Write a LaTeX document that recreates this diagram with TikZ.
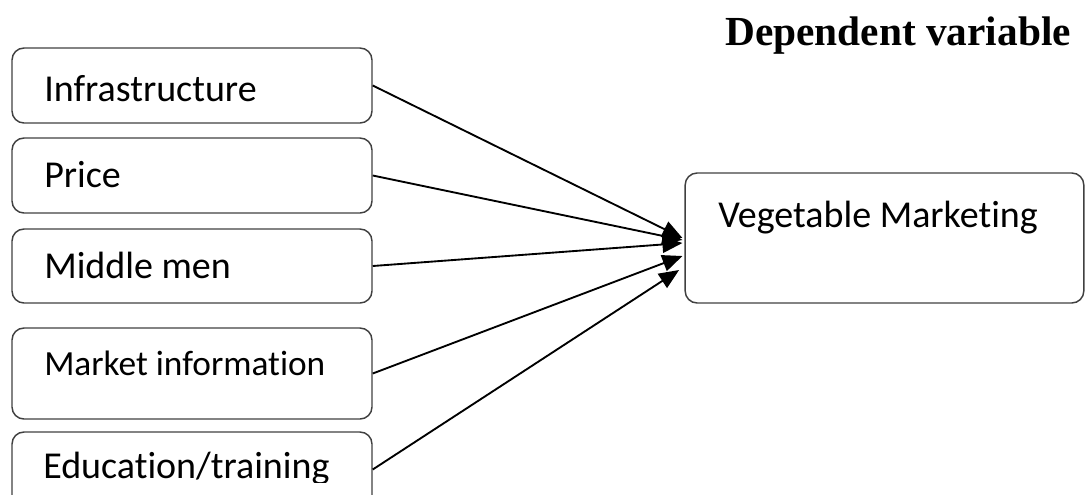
\documentclass[tikz,border=0pt]{standalone}
\usepackage{fontspec}
\usepackage{tikz}
\usetikzlibrary{arrows.meta, shapes}
\newfontfamily\calibfont[Ligatures=NoCommon]{Carlito}
\newfontfamily\timesfont{Liberation Serif}

\begin{document}
\begin{tikzpicture}[x=0.75pt, y=-0.75pt]

    % Frame of the picture
    \useasboundingbox (0,0) rectangle (1086,494);
    \clip (0,0) rectangle (1086,494);

    % Boxes
    \tikzset{bx/.style={draw=black!75, line width=1.1pt, rounded corners=9pt, minimum width=270pt, inner sep=0pt}}
    \tikzset{tbx/.style={bx, minimum width=299pt, minimum height=97.5pt}}

    % Labels
    \tikzset{lbl/.style={anchor=base west, inner sep=0pt, font=\calibfont\fontsize{28.5}{34}\selectfont}}
    \tikzset{slbl/.style={lbl, font=\calibfont\fontsize{26.5}{32}\selectfont}}
    \tikzset{hd/.style={anchor=base west, inner sep=0pt, font=\timesfont\bfseries\fontsize{31}{37}\selectfont}}

    % Arrows
    \tikzset{ar/.style={draw=black, line width=1.4pt, -{Triangle[length=15pt, width=12.5pt]}}}

    % Independent variables
    \node (infra) [bx, minimum height=56.25pt] at (192, 85.5) {};
    \node (price) [bx, minimum height=56.25pt] at (192, 175.5) {};
    \node (midmen) [bx, minimum height=55.5pt] at (192, 266) {};
    \node (mktinfo) [bx, minimum height=68.25pt] at (192, 373.5) {};
    \node (edu) [bx, minimum height=56.25pt] at (192, 469.5) {};

    \node (tinfra) [lbl] at (44, 101) {Infrastructure};
    \node (tprice) [lbl] at (44, 187) {Price};
    \node (tmidmen) [lbl] at (44, 278) {Middle men};
    \node (tmktinfo) [slbl] at (44, 375) {Market information};
    \begin{scope}
        \clip (0,0) rectangle (1086,482);
        \node (tedu) [lbl] at (43, 478) {Education/training};
    \end{scope}

    % Dependent variable
    \node (head) [hd] at (725, 45) {Dependent variable};
    \node (vm) [tbx] at (884.5, 238) {};
    \node (tvm) [lbl] at (718, 227) {Vegetable Marketing};

    % Connectors
    \path[ar] (infra.east) -- ([xshift=-1.5pt]vm.west);
    \path[ar] (price.east) -- ([xshift=-1.5pt, yshift=-1.5pt]vm.west);
    \path[ar] (midmen.east) -- ([xshift=-1.5pt, yshift=-3.75pt]vm.west);
    \path[ar] (mktinfo.east) -- ([xshift=-1.5pt, yshift=-13.5pt]vm.west);
    \path[ar] (edu.east) -- ([xshift=-4pt, yshift=-24pt]vm.west);

\end{tikzpicture}
\end{document}
